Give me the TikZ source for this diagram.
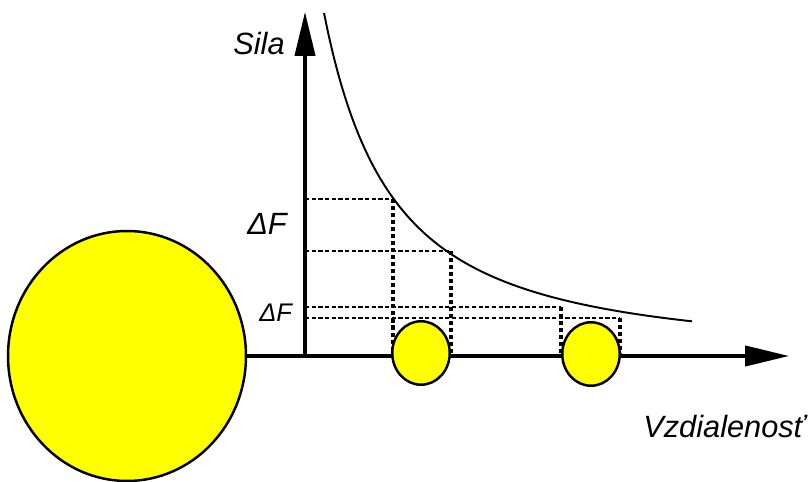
\documentclass[tikz,border=0pt]{standalone}
\usepackage{fontspec}
\setmainfont{Liberation Sans}
\usetikzlibrary{arrows.meta}
\usetikzlibrary{shapes.geometric}
\definecolor{bodyyellow}{RGB}{255,255,0}

\begin{document}
\begin{tikzpicture}[
    x=0.02cm, y=-0.02cm,
    axis/.style={line width=1.9pt, -{Triangle[length=25pt, width=11.5pt]}},
    body/.style={ellipse, draw, line width=1.4pt, fill=bodyyellow, inner sep=0pt},
    hdot/.style={line width=1.6pt, dash pattern=on 2.4pt off 1.4pt},
    vdot/.style={line width=2pt, dash pattern=on 2.3pt off 1.7pt},
    lab/.style={font=\itshape\fontsize{17.5}{20}\selectfont, inner sep=0pt, anchor=base west}
]
    \useasboundingbox (0,0) rectangle (811,482);

    % Big body on the left
    \node[body, minimum width=4.76cm, minimum height=5cm] (earth) at (127,356) {};

    % Axes
    \coordinate (o) at (305,356);
    \coordinate (ytip) at (305,12);
    \coordinate (xtip) at (789,356);
    \draw[axis] (earth.east) -- (xtip);
    \draw[axis] (o) -- (ytip);

    % Force steps
    \foreach \x/\y in {393/199, 451/251, 561/307, 620/318} {
        \draw[hdot] (305,\y) -- (\x,\y);
        \draw[vdot] (\x,\y) -- (\x,356);
    }

    % Force curve
    \draw[line width=1.1pt, domain=324:692, samples=80, smooth]
        plot (\x, {356 - 353.3/pow((\x-222)/100,1.5)});

    % Small bodies on the axis
    \node[body, minimum width=1.15cm, minimum height=1.27cm] (m1) at (421,353) {};
    \node[body, minimum width=1.15cm, minimum height=1.27cm] (m2) at (591,354) {};

    % Labels
    \node[lab] (sila) at (233,55) {Sila};
    \node[lab] (df1) at (247,235) {ΔF};
    \node[lab, font=\itshape\fontsize{14.5}{17}\selectfont] (df2) at (259,322) {ΔF};
    \node[lab] (vzd) at (643,438) {Vzdialenosť};
\end{tikzpicture}
\end{document}
